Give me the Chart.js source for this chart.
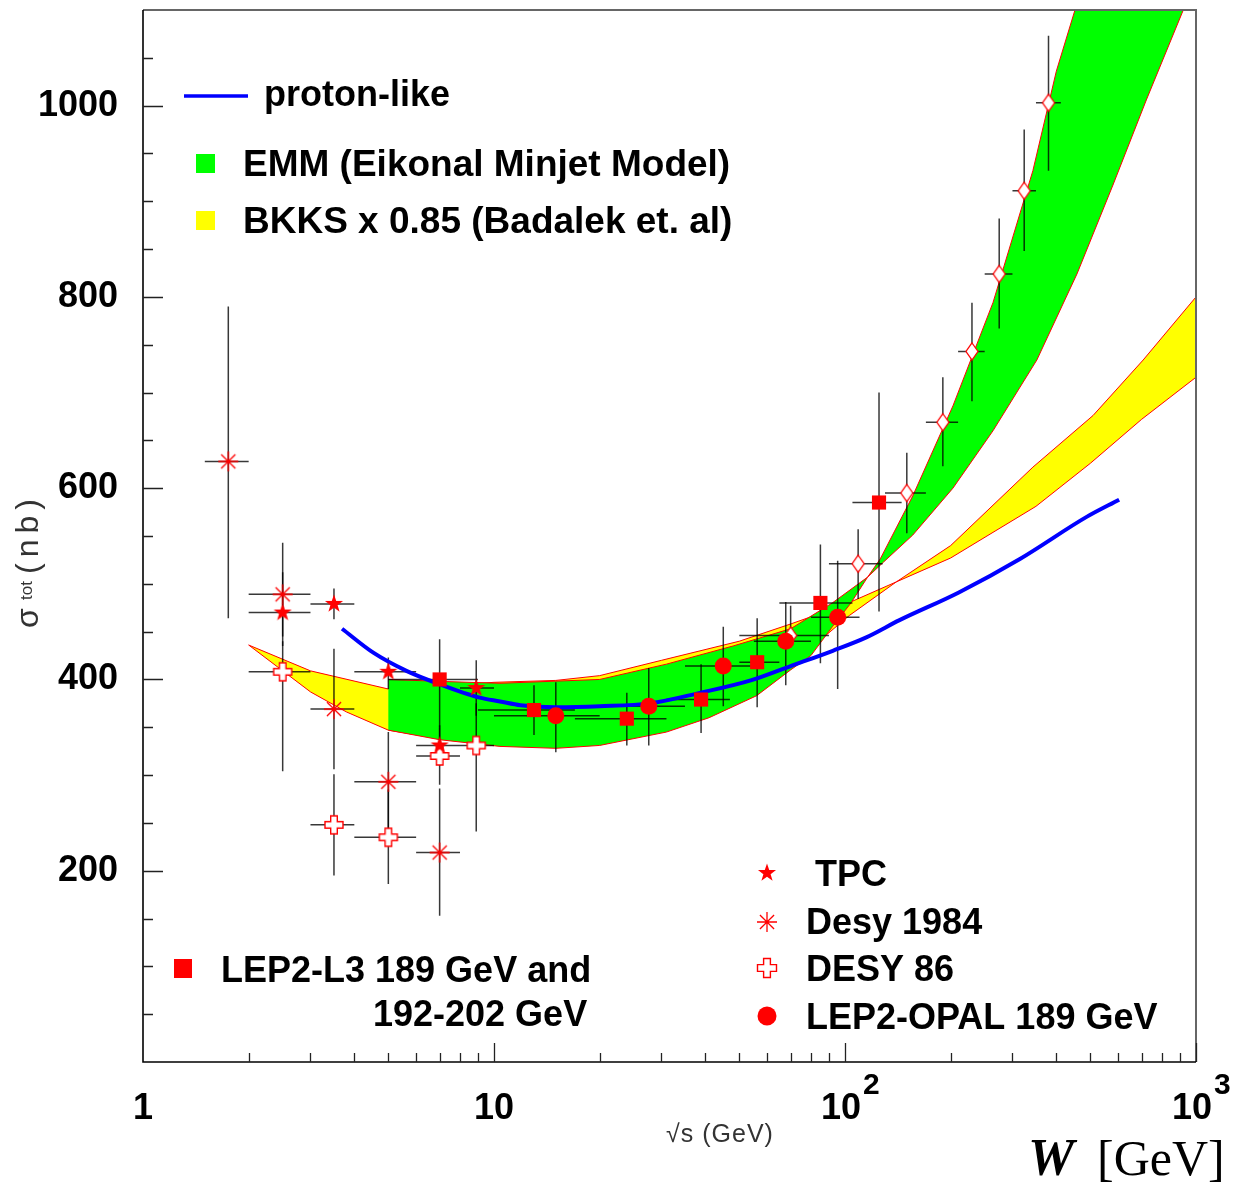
<!DOCTYPE html>
<html lang="en">
<head>
<meta charset="utf-8" />
<title>Total cross section versus W</title>
<script src="https://cdn.jsdelivr.net/npm/chart.js@4.4.1/dist/chart.umd.min.js"></script>
<style>
  html, body { margin: 0; padding: 0; background: #fff; }
  canvas { display: block; }
</style>
</head>
<body>
<canvas id="chart" width="1243" height="1186"></canvas>
<script>
// ---- data (W in GeV, sigma in nb) ----

// proton-like curve
var protonW = [3.69, 4.53, 5.63, 7.0, 9.1, 10.4, 11.9, 15, 20, 27.8, 38.6, 53.9, 70, 92.3, 115, 143, 211, 315, 488, 604];
var protonS = [453, 428, 409, 395, 381, 377, 373, 371, 372, 375, 386, 399, 414, 430, 444, 462, 491, 526, 570, 588];

// EMM band, two edges (they cross near W ~ 116)
var emmAW = [5, 7, 10.4, 20, 31, 48, 70, 92, 116, 129, 156, 203, 264, 352, 458, 580, 722, 920];
var emmAS = [400, 398, 396, 400, 416, 435, 453, 480, 507, 523, 551, 600, 660, 734, 824, 917, 1006, 1100];
var emmBW = [5, 7, 10.4, 15, 20, 31, 41, 56, 70, 80, 92, 104, 116, 126, 156, 203, 264, 343, 400, 452];
var emmBS = [347, 337, 330, 328, 331, 345, 360, 383, 410, 425, 455, 480, 507, 526, 592, 686, 794, 932, 1036, 1100];

// BKKS x 0.85 band, two edges (they cross near W ~ 140)
var bkksAW = [2, 3, 5, 7, 10, 15, 20, 30, 50, 70, 98, 140, 200, 350, 500, 700, 1000];
var bkksAS = [436, 409, 390, 393, 397, 399, 404, 420, 440, 458, 477, 502, 527, 581, 626, 672, 716];
var bkksBW = [2, 3, 3.8, 5, 7, 10, 15, 20, 30, 50, 70, 103, 140, 200, 343, 509, 707, 1000];
var bkksBS = [436, 387, 366, 347, 338, 333, 333, 337, 350, 378, 415, 467, 502, 540, 622, 676, 734, 800];

// TPC
var tpcW   = [2.5, 3.5, 5.0, 7.0, 8.9];
var tpcS   = [470, 479, 408, 331, 391];
var tpcWlo = [2.0, 3.0, 4.0, 6.0, 8.0];
var tpcWhi = [3.0, 4.0, 6.0, 8.0, 10.0];
var tpcSlo = [435, 463, 390, 310, 362];
var tpcShi = [512, 495, 423, 352, 420];

// Desy 1984
var d84W   = [1.75, 2.5, 3.5, 5.0, 7.0];
var d84S   = [628, 489, 369, 293, 219];
var d84Wlo = [1.5, 2.0, 3.0, 4.0, 6.0];
var d84Whi = [2.0, 3.0, 4.0, 6.0, 8.0];
var d84Slo = [464, 445, 306, 240, 153];
var d84Shi = [790, 543, 432, 345, 286];

// DESY 86
var d86W   = [2.5, 3.5, 5.0, 7.0, 8.9];
var d86S   = [408, 248, 235, 320, 331];
var d86Wlo = [2.0, 3.0, 4.0, 6.0, 8.0];
var d86Whi = [3.0, 4.0, 6.0, 8.0, 10.0];
var d86Slo = [304, 195, 186, 290, 241];
var d86Shi = [440, 301, 285, 350, 375];

// LEP2-L3
var l3W   = [7.0, 13.0, 23.9, 38.9, 56.2, 85.1, 125];
var l3S   = [400, 368, 359, 379, 418, 480, 585];
var l3Wlo = [5.0, 9.0, 17.0, 31.0, 50.0, 65.0, 105];
var l3Whi = [9.0, 17.0, 31.0, 47.0, 65.0, 105, 145];
var l3Slo = [350, 342, 331, 344, 371, 417, 471];
var l3Shi = [442, 394, 386, 416, 464, 541, 700];

// LEP2-OPAL
var opW   = [15.0, 27.6, 45.0, 67.8, 95.3];
var opS   = [362, 372, 414, 440, 465];
var opWlo = [10, 20, 35, 55, 80];
var opWhi = [20, 35, 55, 80, 110];
var opSlo = [324, 331, 372, 394, 390];
var opShi = [397, 412, 455, 481, 524];

// open diamonds (no legend entry)
var dmW   = [70, 109, 150, 190, 230, 275, 324, 380];
var dmS   = [446, 521, 595, 669, 743, 824, 911, 1003];
var dmWlo = [50, 90, 130, 170, 210, 250, 300, 350];
var dmWhi = [90, 128, 170, 210, 250, 300, 350, 412];
var dmSlo = [435, 484, 553, 623, 691, 767, 848, 932];
var dmShi = [477, 557, 637, 716, 794, 882, 975, 1073];

var yTicks = [200, 400, 600, 800, 1000];
var xTicks = [1, 10, 100, 1000];

// ---- helpers ----
var RED = '#ff0000', BLUE = '#0000ff', GREEN = '#00ff00', YELLOW = '#ffff00';
var SANS = '"Liberation Sans", Arial, Helvetica, sans-serif';
var SERIF = '"Liberation Serif", "Times New Roman", serif';

function pts(xs, ys) {
  return xs.map(function (v, i) { return { x: v, y: ys[i] }; });
}
// closed outline: first edge forward, second edge backward
function band(aw, as, bw, bs) {
  return pts(aw, as).concat(pts(bw, bs).reverse());
}

function drawStar(ctx, cx, cy, R) {
  var r = R * 0.4;
  ctx.beginPath();
  for (var i = 0; i < 10; i++) {
    var rad = i % 2 ? r : R;
    var a = -Math.PI / 2 + i * Math.PI / 5;
    ctx.lineTo(cx + rad * Math.cos(a), cy + rad * Math.sin(a));
  }
  ctx.closePath();
  ctx.fillStyle = RED;
  ctx.fill();
}
function drawOpenCross(ctx, cx, cy, s, t) {
  var p = [[-t, -s], [t, -s], [t, -t], [s, -t], [s, t], [t, t], [t, s], [-t, s], [-t, t], [-s, t], [-s, -t], [-t, -t]];
  ctx.beginPath();
  p.forEach(function (q) { ctx.lineTo(cx + q[0], cy + q[1]); });
  ctx.closePath();
  ctx.fillStyle = '#fff';
  ctx.fill();
  ctx.strokeStyle = RED;
  ctx.lineWidth = 1.4;
  ctx.stroke();
}
function drawDiamond(ctx, cx, cy, hw, hh) {
  ctx.beginPath();
  ctx.moveTo(cx, cy - hh);
  ctx.lineTo(cx + hw, cy);
  ctx.lineTo(cx, cy + hh);
  ctx.lineTo(cx - hw, cy);
  ctx.closePath();
  ctx.fillStyle = '#fff';
  ctx.fill();
  ctx.strokeStyle = RED;
  ctx.lineWidth = 1.3;
  ctx.stroke();
}
function drawAsterisk(ctx, cx, cy, r) {
  var d = r * Math.SQRT1_2;
  ctx.beginPath();
  ctx.moveTo(cx - r, cy); ctx.lineTo(cx + r, cy);
  ctx.moveTo(cx, cy - r); ctx.lineTo(cx, cy + r);
  ctx.moveTo(cx - d, cy - d); ctx.lineTo(cx + d, cy + d);
  ctx.moveTo(cx - d, cy + d); ctx.lineTo(cx + d, cy - d);
  ctx.strokeStyle = RED;
  ctx.lineWidth = 1.3;
  ctx.stroke();
}
function makeMarker(w, h, draw) {
  var c = document.createElement('canvas');
  c.width = w; c.height = h;
  draw(c.getContext('2d'), w / 2, h / 2);
  return c;
}
var starImg = makeMarker(22, 22, function (c, x, y) { drawStar(c, x, y, 9.5); });
var crossImg = makeMarker(22, 22, function (c, x, y) { drawOpenCross(c, x, y, 9, 3.3); });
var diamondImg = makeMarker(16, 21, function (c, x, y) { drawDiamond(c, x, y, 6, 8.5); });
var asteriskImg = makeMarker(24, 24, function (c, x, y) { drawAsterisk(c, x, y, 10); });

var errorSets = [
  { w: d84W, wlo: d84Wlo, whi: d84Whi, s: d84S, slo: d84Slo, shi: d84Shi },
  { w: tpcW, wlo: tpcWlo, whi: tpcWhi, s: tpcS, slo: tpcSlo, shi: tpcShi },
  { w: d86W, wlo: d86Wlo, whi: d86Whi, s: d86S, slo: d86Slo, shi: d86Shi },
  { w: l3W, wlo: l3Wlo, whi: l3Whi, s: l3S, slo: l3Slo, shi: l3Shi },
  { w: opW, wlo: opWlo, whi: opWhi, s: opS, slo: opSlo, shi: opShi },
  { w: dmW, wlo: dmWlo, whi: dmWhi, s: dmS, slo: dmSlo, shi: dmShi }
];

function drawErrorBars(chart) {
  var ctx = chart.ctx, a = chart.chartArea, x = chart.scales.x, y = chart.scales.y;
  ctx.save();
  ctx.beginPath();
  ctx.rect(a.left, a.top, a.right - a.left, a.bottom - a.top);
  ctx.clip();
  ctx.strokeStyle = 'rgba(0,0,0,0.78)';
  ctx.lineWidth = 1.5;
  errorSets.forEach(function (e) {
    e.w.forEach(function (w, i) {
      var px = x.getPixelForValue(w), py = y.getPixelForValue(e.s[i]);
      ctx.beginPath();
      ctx.moveTo(x.getPixelForValue(e.wlo[i]), py);
      ctx.lineTo(x.getPixelForValue(e.whi[i]), py);
      ctx.moveTo(px, y.getPixelForValue(e.slo[i]));
      ctx.lineTo(px, y.getPixelForValue(e.shi[i]));
      ctx.stroke();
    });
  });
  ctx.restore();
}

function text(ctx, str, x, y, font, align) {
  ctx.font = font;
  ctx.textAlign = align || 'left';
  ctx.textBaseline = 'alphabetic';
  ctx.fillText(str, x, y);
}

var decorations = {
  id: 'decorations',
  afterDatasetDraw: function (chart, args) {
    if (chart.data.datasets[args.index].label === 'EMM') drawErrorBars(chart);
  },
  afterDraw: function (chart) {
    var ctx = chart.ctx, a = chart.chartArea, x = chart.scales.x, y = chart.scales.y;
    var BOLD = 'bold 36px ' + SANS;
    var BOLD37 = 'bold 37px ' + SANS;
    ctx.save();

    // frame (covers the band outlines where they run along the edges)
    ctx.lineWidth = 2;
    ctx.strokeStyle = '#666';
    ctx.beginPath();
    ctx.moveTo(a.left, a.top); ctx.lineTo(a.right, a.top); ctx.lineTo(a.right, a.bottom);
    ctx.stroke();
    ctx.lineWidth = 1.6;
    ctx.strokeStyle = '#000';
    ctx.beginPath();
    ctx.moveTo(a.left, a.top); ctx.lineTo(a.left, a.bottom); ctx.lineTo(a.right, a.bottom);
    ctx.stroke();

    // inward ticks
    ctx.lineWidth = 1.3;
    ctx.strokeStyle = '#222';
    ctx.beginPath();
    for (var v = 50; v <= 1050; v += 50) {
      var py = Math.round(y.getPixelForValue(v)) + 0.5;
      var len = v % 200 === 0 ? 20 : 10;
      ctx.moveTo(a.left, py); ctx.lineTo(a.left + len, py);
    }
    for (var d = 1; d < 1000; d *= 10) {
      for (var m = 1; m <= 10; m++) {
        var px = Math.round(x.getPixelForValue(d * m)) + 0.5;
        if (px <= a.left + 1) continue;
        var l = m === 10 ? 19 : 9;
        ctx.moveTo(px, a.bottom); ctx.lineTo(px, a.bottom - l);
      }
    }
    ctx.stroke();

    // x tick labels
    ctx.fillStyle = '#000';
    xTicks.forEach(function (t) {
      var px = x.getPixelForValue(t);
      if (t < 100) {
        text(ctx, String(t), px, 1119, BOLD, 'center');
      } else {
        text(ctx, '10', px - 4, 1119, BOLD, 'center');
        text(ctx, String(Math.round(Math.log10(t))), px + 18, 1094, 'bold 30px ' + SANS, 'left');
      }
    });

    // axis titles
    ctx.fillStyle = '#333';
    ctx.letterSpacing = '1px';
    text(ctx, '\u221As (GeV)', 720, 1142, '25px ' + SANS, 'center');
    ctx.letterSpacing = '0px';
    ctx.fillStyle = '#000';
    text(ctx, 'W', 1028, 1175, 'italic bold 52px ' + SERIF, 'left');
    text(ctx, '[GeV]', 1097, 1175, '50px ' + SERIF, 'left');

    ctx.save();
    ctx.translate(38, 628);
    ctx.rotate(-Math.PI / 2);
    ctx.fillStyle = '#333';
    text(ctx, '\u03C3', 0, 0, '32px ' + SANS, 'left');
    text(ctx, 'tot', 28, -6, '17px ' + SANS, 'left');
    ctx.letterSpacing = '6px';
    text(ctx, '(nb)', 54, 0, '32px ' + SANS, 'left');
    ctx.letterSpacing = '0px';
    ctx.restore();

    // legend, top left
    ctx.strokeStyle = BLUE;
    ctx.lineWidth = 3.5;
    ctx.beginPath(); ctx.moveTo(184, 96); ctx.lineTo(248, 96); ctx.stroke();
    ctx.fillStyle = GREEN; ctx.fillRect(196, 154, 19, 19);
    ctx.fillStyle = YELLOW; ctx.fillRect(196, 211, 19, 19);
    ctx.fillStyle = '#000';
    text(ctx, 'proton-like', 264, 106, BOLD);
    text(ctx, 'EMM (Eikonal Minjet Model)', 243, 176, BOLD37);
    text(ctx, 'BKKS x 0.85 (Badalek et. al)', 243, 233, BOLD37);

    // legend, bottom right
    drawStar(ctx, 767, 873, 9.5);
    drawAsterisk(ctx, 767, 922, 10);
    drawOpenCross(ctx, 767, 968, 9.5, 3.4);
    ctx.fillStyle = RED;
    ctx.beginPath(); ctx.arc(767, 1016, 9.5, 0, Math.PI * 2); ctx.fill();
    ctx.fillStyle = '#000';
    text(ctx, 'TPC', 815, 886, BOLD);
    text(ctx, 'Desy 1984', 806, 934, BOLD);
    text(ctx, 'DESY 86', 806, 981, BOLD);
    text(ctx, 'LEP2-OPAL 189 GeV', 806, 1029, BOLD);

    // legend, bottom left
    ctx.fillStyle = RED;
    ctx.fillRect(174, 959, 18, 19);
    ctx.fillStyle = '#000';
    text(ctx, 'LEP2-L3 189 GeV and', 221, 982, BOLD);
    text(ctx, '192-202 GeV', 373, 1026, BOLD);

    ctx.restore();
  }
};

new Chart(document.getElementById('chart'), {
  type: 'scatter',
  data: {
    datasets: [
      { label: 'BKKS', data: band(bkksAW, bkksAS, bkksBW, bkksBS), showLine: true, fill: 'shape',
        backgroundColor: YELLOW, borderColor: RED, borderWidth: 1, pointRadius: 0, order: 10 },
      { label: 'EMM', data: band(emmAW, emmAS, emmBW, emmBS), showLine: true, fill: 'shape',
        backgroundColor: GREEN, borderColor: RED, borderWidth: 1, pointRadius: 0, order: 9 },
      { label: 'proton-like', data: pts(protonW, protonS), showLine: true, borderColor: BLUE, borderWidth: 4,
        pointRadius: 0, cubicInterpolationMode: 'monotone', order: 8 },
      { label: 'Desy 1984', data: pts(d84W, d84S), pointStyle: asteriskImg, order: 6 },
      { label: 'DESY 86', data: pts(d86W, d86S), pointStyle: crossImg, order: 5 },
      { label: 'TPC', data: pts(tpcW, tpcS), pointStyle: starImg, order: 4 },
      { label: 'diamonds', data: pts(dmW, dmS), pointStyle: diamondImg, order: 3 },
      { label: 'LEP2-L3', data: pts(l3W, l3S), pointStyle: 'rect', pointRadius: 10,
        pointBackgroundColor: RED, pointBorderWidth: 0, order: 2 },
      { label: 'LEP2-OPAL', data: pts(opW, opS), pointStyle: 'circle', pointRadius: 8.5,
        pointBackgroundColor: RED, pointBorderWidth: 0, order: 1 }
    ]
  },
  options: {
    responsive: false,
    animation: false,
    devicePixelRatio: 1,
    events: [],
    layout: { padding: { top: 10, right: 47, left: 0, bottom: 0 } },
    plugins: { legend: { display: false }, tooltip: { enabled: false } },
    scales: {
      x: {
        type: 'logarithmic', min: 1, max: 1000,
        grid: { display: false }, border: { display: false },
        ticks: { display: false },
        afterBuildTicks: function (s) { s.ticks = xTicks.map(function (v) { return { value: v }; }); },
        afterFit: function (s) { s.height = 124; s.paddingLeft = 0; s.paddingRight = 0; }
      },
      y: {
        min: 0, max: 1100,
        grid: { display: false }, border: { display: false },
        afterBuildTicks: function (s) { s.ticks = yTicks.map(function (v) { return { value: v }; }); },
        ticks: {
          color: '#000', padding: 17,
          font: { family: SANS, size: 36, weight: 'bold' },
          callback: function (v) { return String(v); }
        },
        afterFit: function (s) { s.width = 143; s.paddingTop = 0; s.paddingBottom = 0; }
      }
    }
  },
  plugins: [decorations]
});
</script>
</body>
</html>
